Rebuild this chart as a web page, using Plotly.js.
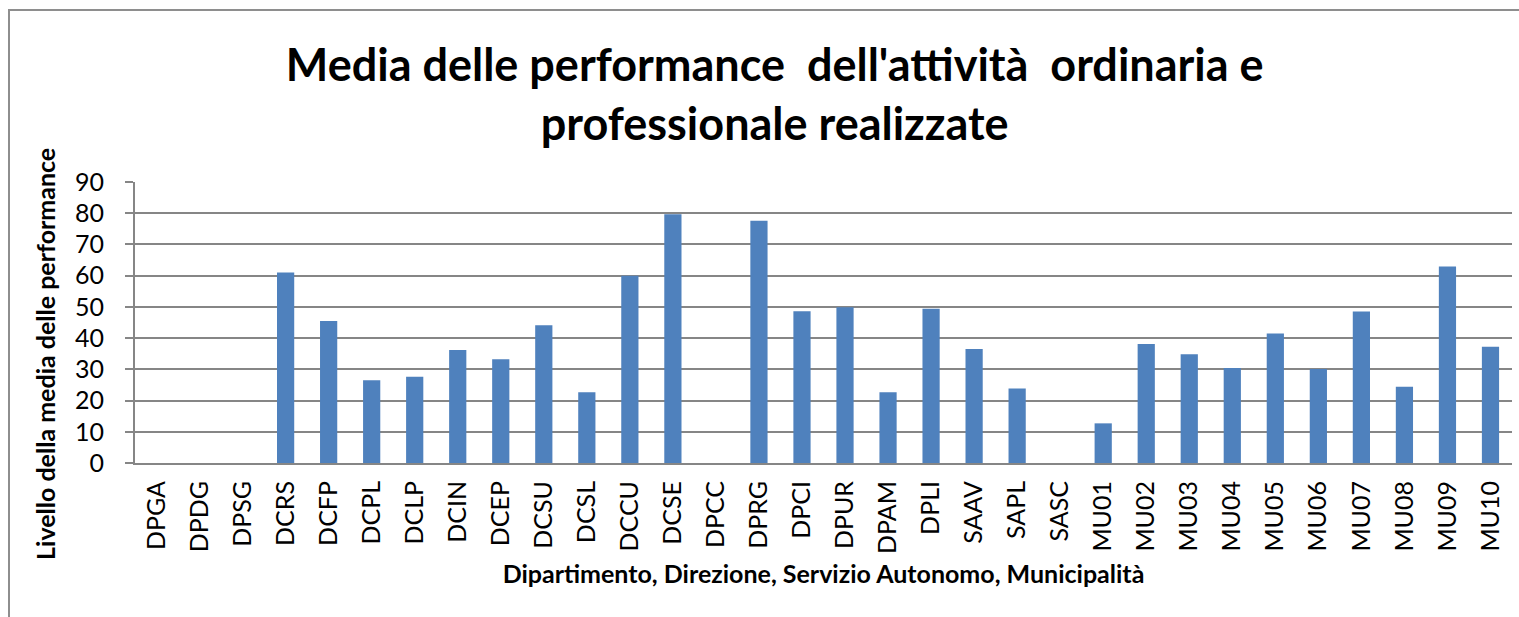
<!DOCTYPE html>
<html>
<head>
<meta charset="utf-8">
<script src="https://cdn.plot.ly/plotly-3.0.1.min.js"></script>
<style>
  html, body { margin: 0; padding: 0; background: #ffffff; overflow: hidden; }
  #chart { width: 1519px; height: 617px; }
  #frame { position: absolute; left: 8px; top: 9px; width: 1530px; height: 700px;
           border: 2px solid #8e8e8e; pointer-events: none; box-sizing: border-box; }
</style>
</head>
<body>
<div id="chart"></div>
<div id="frame"></div>
<script>
const categories = ["DPGA","DPDG","DPSG","DCRS","DCFP","DCPL","DCLP","DCIN","DCEP","DCSU","DCSL","DCCU","DCSE","DPCC","DPRG","DPCI","DPUR","DPAM","DPLI","SAAV","SAPL","SASC","MU01","MU02","MU03","MU04","MU05","MU06","MU07","MU08","MU09","MU10"];
const mediaPerformance = [0,0,0,61,45.5,26.5,27.6,36.2,33.2,44.1,22.7,60,79.7,0,77.6,48.6,49.9,22.7,49.4,36.5,23.9,0,12.7,38.1,34.8,30.4,41.5,30.1,48.5,24.4,62.9,37.2];
const yTicks = [0,10,20,30,40,50,60,70,80,90];

const titleText = "Media delle performance  dell'attività  ordinaria e<br>professionale realizzate";
const yTitle = "Livello della media delle performance";
const xTitle = "Dipartimento, Direzione, Servizio Autonomo, Municipalità";

const FONT = "Lato, 'Open Sans', sans-serif";

const trace = {
  type: "bar",
  x: categories,
  y: mediaPerformance,
  marker: { color: "#4f81bd", line: { color: "#b9cde5", width: 0 } },
  hoverinfo: "skip"
};

const layout = {
  width: 1519,
  height: 617,
  margin: { l: 135, r: 7, t: 182, b: 154, pad: 0 },
  paper_bgcolor: "#ffffff",
  plot_bgcolor: "#ffffff",
  bargap: 0.6,
  showlegend: false,
  font: { family: FONT, color: "#000000" },
  title: {
    text: "<b>" + titleText + "</b>",
    font: { family: FONT, size: 45, color: "#000000" },
    x: 0.51, xref: "container", xanchor: "center",
    y: 0.868, yref: "container", yanchor: "middle"
  },
  annotations: [{
    text: "<b>" + yTitle + "</b>",
    textangle: -90,
    font: { family: FONT, size: 25, color: "#000000" },
    xref: "paper", yref: "paper",
    x: -0.0654, y: 0.388,
    xanchor: "center", yanchor: "middle",
    showarrow: false
  }],
  xaxis: {
    type: "category",
    tickangle: -90,
    tickfont: { family: FONT, size: 25, color: "#000000" },
    ticklabelstandoff: 6,
    showgrid: false,
    showline: true, linecolor: "#868686", linewidth: 2,
    ticks: "",
    title: { text: "<b>" + xTitle + "</b>", font: { family: FONT, size: 25, color: "#000000" }, standoff: 13 },
    fixedrange: true
  },
  yaxis: {
    range: [0, 90],
    tickvals: yTicks,
    ticktext: yTicks.map(String),
    tickfont: { family: FONT, size: 25, color: "#000000" },
    ticklabelstandoff: 16,
    showgrid: true, gridcolor: "#868686", gridwidth: 2,
    zeroline: false,
    showline: true, linecolor: "#868686", linewidth: 2,
    ticks: "outside", ticklen: 8, tickcolor: "#868686", tickwidth: 2,
    fixedrange: true
  }
};

Plotly.newPlot("chart", [trace], layout, { displayModeBar: false, staticPlot: true });
</script>
</body>
</html>
